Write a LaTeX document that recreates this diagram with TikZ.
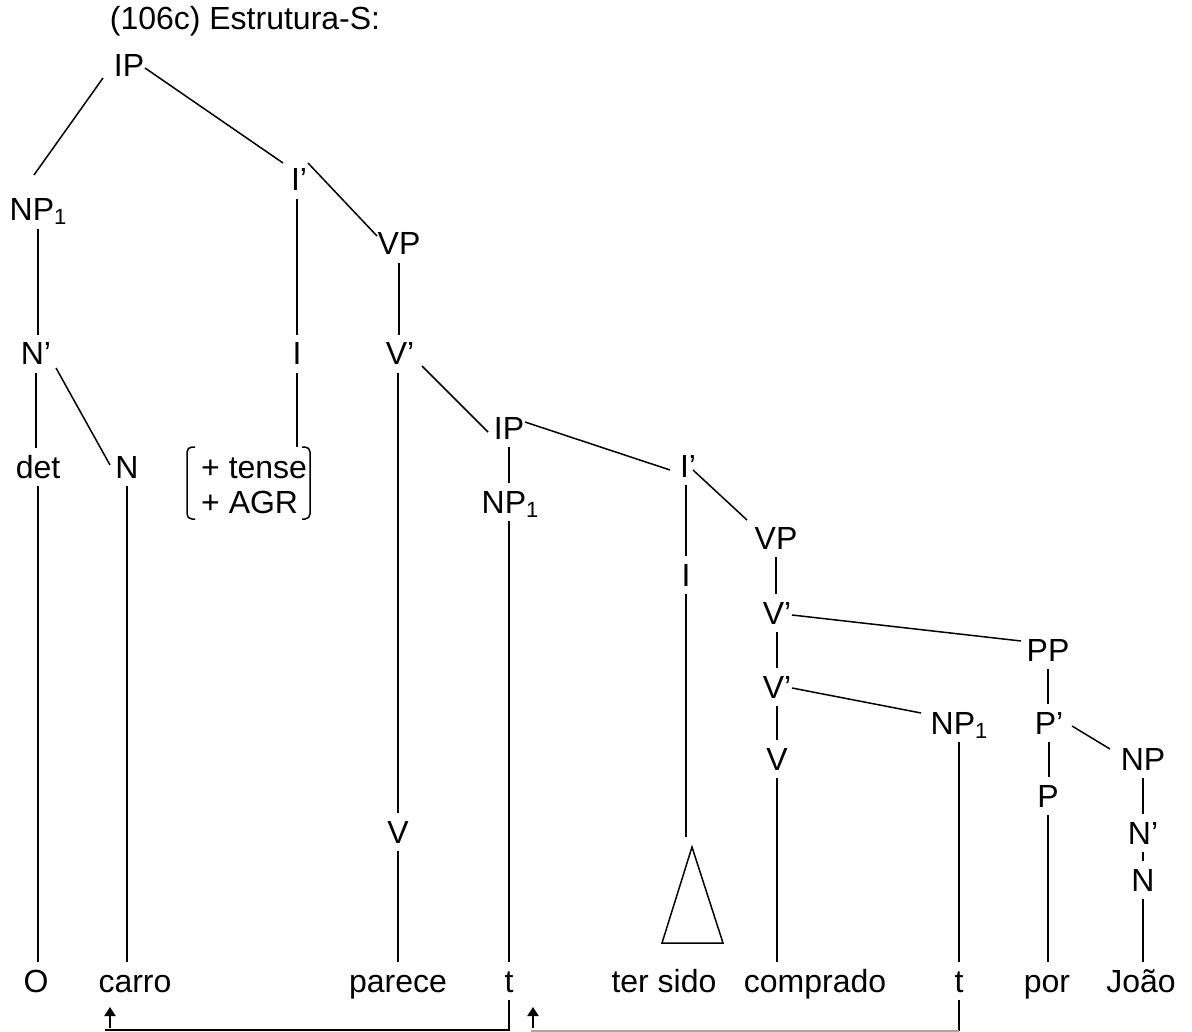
\documentclass[tikz,border=0pt]{standalone}
\usepackage{fontspec}
\setmainfont{Liberation Sans}
\usetikzlibrary{arrows.meta,calc}
\newcommand{\lowsub}[1]{\raisebox{-4pt}{\fontsize{22}{22}\selectfont #1}}

\begin{document}
\begin{tikzpicture}[x=1pt,y=-1pt,
  lbl/.style={inner xsep=2pt, inner ysep=8pt, text height=22pt, text depth=0pt,
              font=\fontsize{32}{38}\selectfont},
  edge/.style={line width=1.5pt},
  mover/.style={line width=2pt, -{Triangle[width=11pt,length=9pt]}},
]
\useasboundingbox (0,0) rectangle (1192,1032);

% title
\node[lbl] (title) at (245,19) {(106c) Estrutura-S:};

% matrix clause
\node[lbl] (ip1)  at (129,66)  {IP};
\node[lbl] (np1a) at (38,210)  {NP\lowsub{1}};
\node[lbl] (ib1)  at (299,180) {I’};
\node[lbl] (vp1)  at (399,244) {VP};
\node[lbl] (nb1)  at (36,354)  {N’};
\node[lbl] (i1)   at (297,354) {I};
\node[lbl] (vb1)  at (400,354) {V’};
\node[lbl] (det)  at (38,467)  {det};
\node[lbl] (n1)   at (127,467) {N};
\node[lbl, anchor=west] (feat1) at (199,467) {+ tense};
\node[lbl, anchor=west] (feat2) at (199,502) {+ AGR};
\node[lbl] (v1)   at (398,832) {V};

% embedded clause
\node[lbl] (ip2)  at (509,428) {IP};
\node[lbl] (np1b) at (510,502) {NP\lowsub{1}};
\node[lbl] (ib2)  at (688,466) {I’};
\node[lbl] (vp2)  at (776,538) {VP};
\node[lbl] (i2)   at (686,575) {I};
\node[lbl] (vb2)  at (777,613) {V’};
\node[lbl] (pp)   at (1048,650) {PP};
\node[lbl] (vb3)  at (777,687) {V’};
\node[lbl] (np1c) at (959,723) {NP\lowsub{1}};
\node[lbl] (pb)   at (1049,723) {P’};
\node[lbl] (v2)   at (777,759) {V};
\node[lbl] (np)   at (1143,759) {NP};
\node[lbl] (p)    at (1048,796) {P};
\node[lbl] (nb2)  at (1143,833) {N’};
\node[lbl] (n2)   at (1143,880) {N};

% terminal string
\node[lbl] (wO)   at (36,981)   {O};
\node[lbl] (wcar) at (135,981)  {carro};
\node[lbl] (wpar) at (398,981)  {parece};
\node[lbl] (tA)   at (509,981)  {t};
\node[lbl] (wter) at (664,981)  {ter sido};
\node[lbl] (wcom) at (815,981)  {comprado};
\node[lbl] (tB)   at (959,981)  {t};
\node[lbl] (wpor) at (1047,981) {por};
\node[lbl] (wjoa) at (1141,981) {João};

% feature bracket
\coordinate (brL) at (187,447);
\coordinate (brR) at (310,447);
\draw[edge, rounded corners=5pt] ($(brL)+(8,0)$) -- (brL) -- ++(0,72) -- ++(8,0);
\draw[edge, rounded corners=5pt] ($(brR)+(-8,0)$) -- (brR) -- ++(0,72) -- ++(-8,0);

% triangle under the embedded I
\coordinate (triTop) at (692,847);
\coordinate (triL) at (662,943);
\coordinate (triR) at (723,943);
\draw[edge] (triTop) -- (triL) -- (triR) -- cycle;

% branches: matrix clause
\draw[edge] ([shift={(-26,12)}]ip1.center) -- ([shift={(-4,-35)}]np1a.center);
\draw[edge] ([shift={(16,2)}]ip1.center) -- ([shift={(-16,-17)}]ib1.center);
\draw[edge] ([shift={(9,-17)}]ib1.center) -- ([shift={(-22,-8)}]vp1.center);
\draw[edge] (i1.north |- ib1.south) -- (i1.north);
\draw[edge] (i1.south) -- (i1.south |- brL);
\draw[edge] (np1a.south) -- (np1a.south |- nb1.north);
\draw[edge] (nb1.south) -- (nb1.south |- det.north);
\draw[edge] ([shift={(20,14)}]nb1.center) -- ([shift={(-17,-2)}]n1.center);
\draw[edge] (det.south) -- (det.south |- wO.north);
\draw[edge] (n1.south) -- (n1.south |- wcar.north);
\draw[edge] (vp1.south) -- (vp1.south |- vb1.north);
\draw[edge] (vb1.south -| v1.north) -- (v1.north);
\draw[edge] (v1.south) -- (wpar.north);
\draw[edge] ([shift={(22,12)}]vb1.center) -- ([shift={(-21,4)}]ip2.center);

% branches: embedded clause
\draw[edge] ([shift={(16,-6)}]ip2.center) -- ([shift={(-18,4)}]ib2.center);
\draw[edge] ([shift={(5,4)}]ib2.center) -- ([shift={(-29,-18)}]vp2.center);
\draw[edge] (ip2.south) -- (ip2.south |- np1b.north);
\draw[edge] (ip2.south |- np1b.south) -- (ip2.south |- tA.north);
\draw[edge] (i2.north |- ib2.south) -- (i2.north);
\draw[edge] (i2.south) -- (i2.south |- 0,837);
\draw[edge] (vp2.south) -- (vp2.south |- vb2.north);
\draw[edge] ([shift={(15,2)}]vb2.center) -- ([shift={(-27,-9)}]pp.center);
\draw[edge] (vb2.south) -- (vb2.south |- vb3.north);
\draw[edge] (pp.south) -- (pp.south |- pb.north);
\draw[edge] ([shift={(15,1)}]vb3.center) -- ([shift={(-38,-10)}]np1c.center);
\draw[edge] ([shift={(23,3)}]pb.center) -- ([shift={(-33,-10)}]np.center);
\draw[edge] (vb3.south) -- (vb3.south |- v2.north);
\draw[edge] (v2.south) -- (v2.south |- wcom.north);
\draw[edge] (np1c.south) -- (np1c.south |- tB.north);
\draw[edge] (pb.south) -- (pb.south |- p.north);
\draw[edge] (p.south) -- (p.south |- wpor.north);
\draw[edge] (np.south) -- (np.south |- nb2.north);
\draw[edge] (nb2.south) -- (nb2.south |- n2.north);
\draw[edge] (n2.south) -- (n2.south |- wjoa.north);

% movement links under the string
\coordinate (hookA) at (105,1030);
\coordinate (hookB) at (531,1031);
\draw[edge] (tA.south) |- (hookA);
\draw[edge] (tB.south) -- (tB.south |- hookB);
\draw[edge, black!35] (tB.south |- hookB) -- (hookB);
\coordinate (arrA) at (110,1028);
\coordinate (arrB) at (533,1028);
\draw[mover] (arrA) -- ++(0,-21);
\draw[mover] (arrB) -- ++(0,-21);
\end{tikzpicture}
\end{document}
